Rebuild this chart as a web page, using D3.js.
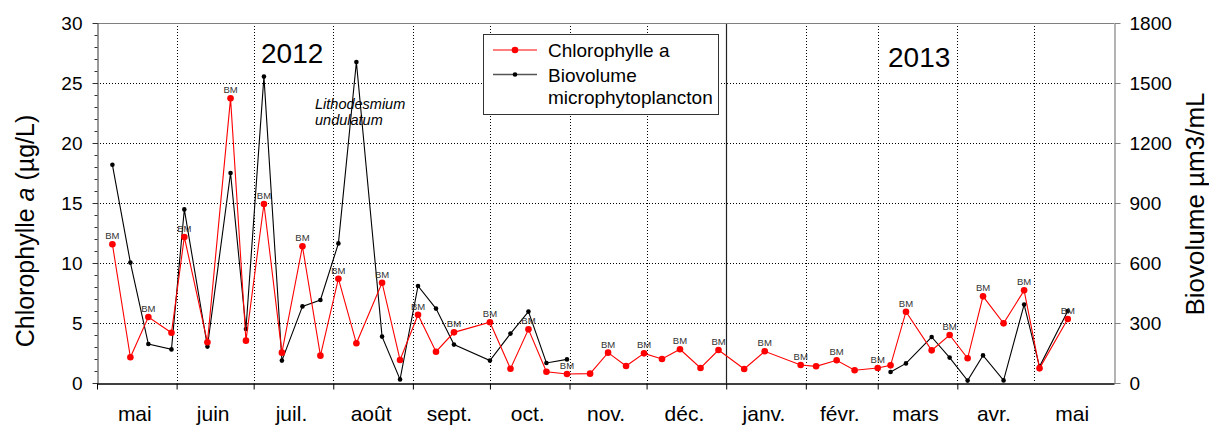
<!DOCTYPE html>
<html>
<head>
<meta charset="utf-8">
<script src="https://cdn.jsdelivr.net/npm/d3@7"></script>
<style>
  body { margin: 0; background: #fff; }
  svg { display: block; }
  text { font-family: "Liberation Sans", Arial, sans-serif; }
</style>
</head>
<body>
<svg id="chart" width="1209" height="425"></svg>
<script>
// Sampling dates (2012-2013 survey)
const sampleDates = [
  "2012-05-07","2012-05-14","2012-05-21","2012-05-30","2012-06-04","2012-06-13",
  "2012-06-22","2012-06-28","2012-07-05","2012-07-12","2012-07-20","2012-07-27",
  "2012-08-03","2012-08-10","2012-08-20","2012-08-27","2012-09-03","2012-09-10",
  "2012-09-17","2012-10-01","2012-10-09","2012-10-16","2012-10-23","2012-10-31",
  "2012-11-09","2012-11-16","2012-11-23","2012-11-30","2012-12-07","2012-12-14",
  "2012-12-22","2012-12-29","2013-01-08","2013-01-16","2013-01-30","2013-02-05",
  "2013-02-13","2013-02-20","2013-03-01","2013-03-06","2013-03-12","2013-03-22",
  "2013-03-29","2013-04-05","2013-04-11","2013-04-19","2013-04-27","2013-05-03",
  "2013-05-14"
];

// Chlorophyll a (µg/L)
const chlorophyll = [
  11.56, 2.14, 5.5, 4.19, 12.17, 3.39,
  23.72, 3.53, 14.92, 2.53, 11.39, 2.28,
  8.69, 3.31, 8.36, 1.92, 5.69, 2.61,
  4.22, 5.06, 1.19, 4.47, 0.94, 0.75,
  0.78, 2.53, 1.42, 2.47, 2.0, 2.81,
  1.25, 2.75, 1.17, 2.64, 1.5, 1.39,
  1.89, 1.06, 1.25, 1.47, 5.94, 2.72,
  4.0, 2.06, 7.22, 4.97, 7.72, 1.22,
  5.33
];

// Microphytoplankton biovolume (µm3/mL); null = not counted
const biovolume = [
  1091, 602, 195, 168, 868, 182,
  1050, 270, 1532, 112, 383, 415,
  698, 1605, 232, 18, 485, 372,
  192, 112, 247, 357, 100, 118,
  null, null, null, null, null, null,
  null, null, null, null, null, null,
  null, null, null, 55, 98, 230,
  127, 12, 138, 13, 392, 82,
  360
];

// Station code noted above some chlorophyll samples
const sampleNotes = [
  "BM","","BM","","BM","",
  "BM","","BM","","BM","",
  "BM","","BM","","BM","",
  "BM","BM","","BM","","BM",
  "","BM","","BM","","BM",
  "","BM","","BM","BM","",
  "BM","","BM","","BM","",
  "BM","","BM","","BM","",
  "BM"
];

const monthLabels = ["mai","juin","juil.","août","sept.","oct.","nov.","déc.","janv.","févr.","mars","avr.","mai"];
const chlTicks = [0, 5, 10, 15, 20, 25, 30];
const bioTicks = [0, 300, 600, 900, 1200, 1500, 1800];
const yearLabels = ["2012", "2013"];

const parse = d3.utcParse("%Y-%m-%d");
const rows = sampleDates.map((d, i) => ({
  date: parse(d), chl: chlorophyll[i], bio: biovolume[i], note: sampleNotes[i]
}));

const svg = d3.select("#chart");
const L = 97, R = 1114, T = 23, B = 383;

const x = d3.scaleUtc()
  .domain([new Date(Date.UTC(2012, 4, 1)), new Date(Date.UTC(2013, 5, 1))])
  .range([L, R]);
const yL = d3.scaleLinear().domain([0, 30]).range([B, T]);
const yR = d3.scaleLinear().domain([0, 1800]).range([B, T]);

const monthStarts = d3.utcMonth.range(new Date(Date.UTC(2012, 5, 1)), new Date(Date.UTC(2013, 5, 1)));
const yearBreak = new Date(Date.UTC(2013, 0, 1));

// Dotted grid
const grid = svg.append("g").attr("stroke", "#000").attr("stroke-width", 1).attr("stroke-dasharray", "1,2");
grid.selectAll("line.h").data(chlTicks.filter(v => v > 0 && v < 30)).join("line")
  .attr("x1", L).attr("x2", R)
  .attr("y1", d => Math.round(yL(d)) + 0.5).attr("y2", d => Math.round(yL(d)) + 0.5);
grid.selectAll("line.v").data(monthStarts.filter(d => +d !== +yearBreak)).join("line")
  .attr("y1", T).attr("y2", B)
  .attr("x1", d => Math.round(x(d)) + 0.5).attr("x2", d => Math.round(x(d)) + 0.5);

// Year separator
svg.append("line")
  .attr("x1", Math.round(x(yearBreak)) + 0.5).attr("x2", Math.round(x(yearBreak)) + 0.5)
  .attr("y1", T).attr("y2", B).attr("stroke", "#222").attr("stroke-width", 1.2);

// Frame: top border
svg.append("line").attr("x1", L).attr("x2", R).attr("y1", T + 0.5).attr("y2", T + 0.5)
  .attr("stroke", "#808080").attr("stroke-width", 1.2);

// Left axis (major + minor ticks)
const leftMinor = svg.append("g").attr("transform", `translate(${L + 0.5},0)`)
  .call(d3.axisLeft(yL).tickValues(d3.range(0, 31, 1)).tickSize(3).tickFormat(""));
leftMinor.select(".domain").remove();
leftMinor.selectAll("line").attr("stroke", "#333");
const leftAxis = svg.append("g").attr("transform", `translate(${L + 0.5},0)`)
  .call(d3.axisLeft(yL).tickValues(chlTicks).tickSize(5).tickSizeOuter(0).tickPadding(10).tickFormat(d3.format("d")));
leftAxis.select(".domain").attr("stroke", "#333");
leftAxis.selectAll("line").attr("stroke", "#333");
leftAxis.selectAll("text").attr("font-size", 19).attr("fill", "#000")
  .attr("font-family", "'Liberation Sans', Arial, sans-serif");

// Right axis
const rightAxis = svg.append("g").attr("transform", `translate(${R + 0.5},0)`)
  .call(d3.axisRight(yR).tickValues(bioTicks).tickSize(6).tickSizeOuter(0).tickPadding(9).tickFormat(d3.format("d")));
rightAxis.select(".domain").attr("stroke", "#808080").attr("stroke-width", 1.2);
rightAxis.selectAll("line").attr("stroke", "#808080");
rightAxis.selectAll("text").attr("font-size", 19).attr("fill", "#000")
  .attr("font-family", "'Liberation Sans', Arial, sans-serif");

// Bottom axis: ticks at month boundaries, labels centred in each month
const bottomAxis = svg.append("g").attr("transform", `translate(0,${B + 0.5})`)
  .call(d3.axisBottom(x).tickValues([x.domain()[0], ...monthStarts.slice(0, -1)]).tickSize(6).tickSizeOuter(0).tickFormat(""));
bottomAxis.select(".domain").attr("stroke", "#000").attr("stroke-width", 1.5);
bottomAxis.selectAll("line").attr("stroke", "#000");

const monthMids = d3.utcMonth.range(x.domain()[0], x.domain()[1])
  .map(d => new Date((+d + +d3.utcMonth.offset(d, 1)) / 2));
svg.append("g").selectAll("text").data(monthLabels).join("text")
  .attr("x", (d, i) => x(monthMids[i]) - 2)
  .attr("y", 421)
  .attr("text-anchor", "middle")
  .attr("font-size", 21)
  .text(d => d);

// Axis titles
const leftTitle = svg.append("text")
  .attr("transform", "translate(34,231) rotate(-90)")
  .attr("text-anchor", "middle").attr("font-size", 25);
leftTitle.append("tspan").text("Chlorophylle ");
leftTitle.append("tspan").attr("font-style", "italic").text("a");
leftTitle.append("tspan").text(" (µg/L)");

svg.append("text")
  .attr("transform", "translate(1204,204) rotate(-90)")
  .attr("text-anchor", "middle").attr("font-size", 26)
  .text("Biovolume µm3/mL");

// Year labels
svg.append("text").attr("x", 261).attr("y", 63).attr("font-size", 28).text(yearLabels[0]);
svg.append("text").attr("x", 888).attr("y", 67).attr("font-size", 28).text(yearLabels[1]);

// Species annotation
const species = svg.append("text").attr("font-size", 14.5).attr("font-style", "italic");
species.append("tspan").attr("x", 315).attr("y", 109).text("Lithodesmium");
species.append("tspan").attr("x", 315).attr("y", 125).text("undulatum");

// Biovolume series
const bioLine = d3.line().defined(d => d.bio != null).x(d => x(d.date)).y(d => yR(d.bio));
svg.append("path").datum(rows).attr("d", bioLine)
  .attr("fill", "none").attr("stroke", "#000").attr("stroke-width", 1.1);
svg.append("g").selectAll("circle").data(rows.filter(d => d.bio != null)).join("circle")
  .attr("cx", d => x(d.date)).attr("cy", d => yR(d.bio)).attr("r", 2.3).attr("fill", "#000");

// Chlorophyll series
const chlLine = d3.line().x(d => x(d.date)).y(d => yL(d.chl));
svg.append("path").datum(rows).attr("d", chlLine)
  .attr("fill", "none").attr("stroke", "#ff0000").attr("stroke-width", 1.1);
svg.append("g").selectAll("circle").data(rows).join("circle")
  .attr("cx", d => x(d.date)).attr("cy", d => yL(d.chl)).attr("r", 3.3).attr("fill", "#ff0000");

// Station notes
svg.append("g").selectAll("text").data(rows.filter(d => d.note)).join("text")
  .attr("x", d => x(d.date)).attr("y", d => yL(d.chl) - 5)
  .attr("text-anchor", "middle").attr("font-size", 9.5).attr("fill", "#333")
  .text(d => d.note);

// Legend
const lg = svg.append("g");
lg.append("rect").attr("x", 483.5).attr("y", 34.5).attr("width", 235).attr("height", 80)
  .attr("fill", "#fff").attr("stroke", "#333").attr("stroke-width", 1);
lg.append("line").attr("x1", 493).attr("x2", 537).attr("y1", 50).attr("y2", 50)
  .attr("stroke", "#ff0000").attr("stroke-width", 1.2);
lg.append("circle").attr("cx", 515).attr("cy", 50).attr("r", 3.3).attr("fill", "#ff0000");
lg.append("line").attr("x1", 493).attr("x2", 537).attr("y1", 74.5).attr("y2", 74.5)
  .attr("stroke", "#555").attr("stroke-width", 1.5);
lg.append("circle").attr("cx", 515).attr("cy", 74.5).attr("r", 2.3).attr("fill", "#000");
lg.append("text").attr("x", 548).attr("y", 57).attr("font-size", 19).text("Chlorophylle a");
const lt = lg.append("text").attr("font-size", 19);
lt.append("tspan").attr("x", 548).attr("y", 82).text("Biovolume");
lt.append("tspan").attr("x", 548).attr("y", 104).text("microphytoplancton");
</script>
</body>
</html>
